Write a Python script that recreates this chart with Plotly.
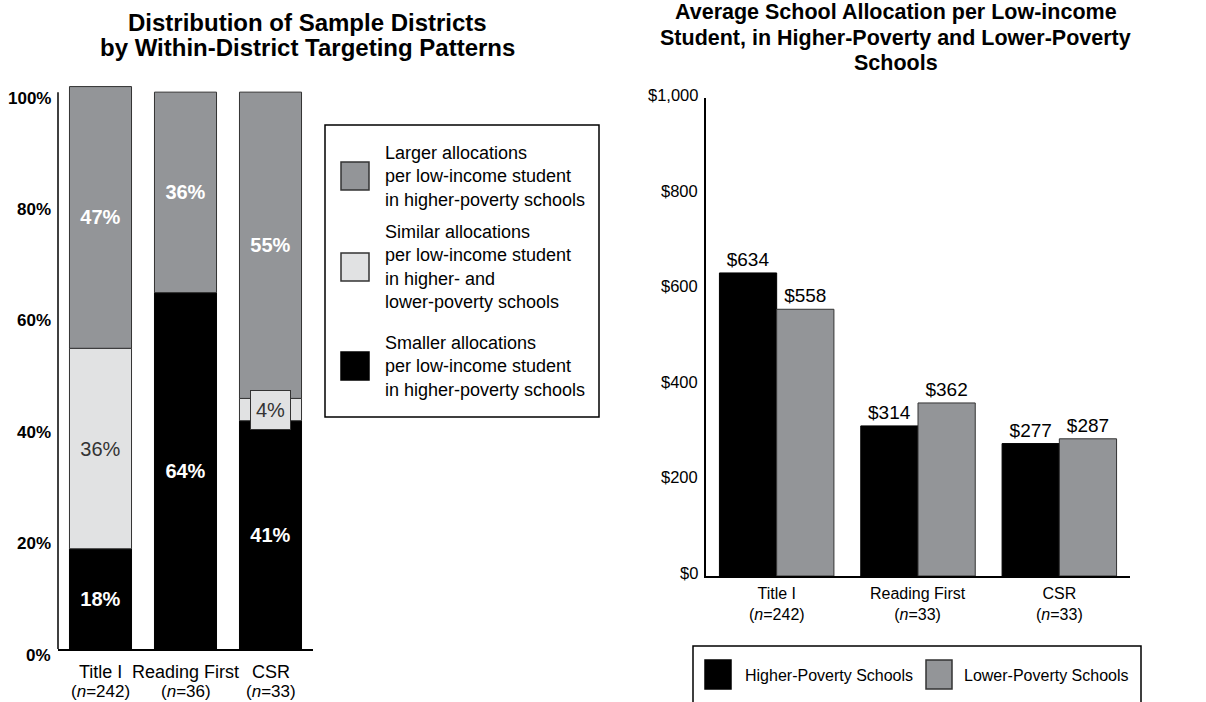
import plotly.graph_objects as go

W, H = 1206, 702
FONT = "Liberation Sans, Arial, sans-serif"

# ---------------- data ----------------
left_categories = ["Title I", "Reading First", "CSR"]
left_n = [242, 36, 33]
smaller_pct = [18, 64, 41]   # black
similar_pct = [36, 0, 4]     # light gray
larger_pct = [47, 36, 55]    # gray
left_ticks = [0, 20, 40, 60, 80, 100]
left_title_lines = ["Distribution of Sample Districts", "by Within-District Targeting Patterns"]
left_legend_labels = [
    "Larger allocations<br>per low-income student<br>in higher-poverty schools",
    "Similar allocations<br>per low-income student<br>in higher- and<br>lower-poverty schools",
    "Smaller allocations<br>per low-income student<br>in higher-poverty schools",
]

right_categories = ["Title I", "Reading First", "CSR"]
right_n = [242, 33, 33]
higher_pov = [634, 314, 277]
lower_pov = [558, 362, 287]
right_ticks = [0, 200, 400, 600, 800, 1000]
right_title_lines = ["Average School Allocation per Low-income",
                     "Student, in Higher-Poverty and Lower-Poverty",
                     "Schools"]
right_legend_labels = ["Higher-Poverty Schools", "Lower-Poverty Schools"]

# ---------------- styles ----------------
BLACK = "#000000"
GRAY = "#939598"
LIGHT = "#e1e2e3"
EDGE = "#333333"


def px(x):
    return x / W


def py(y):
    return 1 - y / H


fig = go.Figure()

# ---------- left stacked bars ----------
base_sim = smaller_pct
base_lar = [a + b for a, b in zip(smaller_pct, similar_pct)]
segs = [
    (smaller_pct, [0, 0, 0], BLACK, BLACK, "white", "bold"),
    (similar_pct, base_sim, LIGHT, EDGE, "#333333", "normal"),
    (larger_pct, base_lar, GRAY, EDGE, "white", "bold"),
]
for vals, base, col, edge, tcol, weight in segs:
    yv = [v if v > 0 else None for v in vals]
    txt = [f"{v}%" if v >= 10 else "" for v in vals]
    fig.add_trace(go.Bar(
        x=left_categories, y=yv, base=base, width=0.73,
        marker=dict(color=col, line=dict(color=edge, width=1)),
        text=txt, textposition="inside", insidetextanchor="middle", textangle=0,
        insidetextfont=dict(family=FONT, size=20, color=tcol, weight=weight),
        xaxis="x", yaxis="y", showlegend=False, hoverinfo="skip",
    ))

# small segment labels in boxes
annotations = []
for cat, v, b in zip(left_categories, similar_pct, base_sim):
    if 0 < v < 10:
        annotations.append(dict(
            x=cat, y=b + v / 2, xref="x", yref="y", xanchor="center", yanchor="middle",
            text=f"{v}%", showarrow=False,
            font=dict(family=FONT, size=20, color="#333333"),
            bgcolor=LIGHT, bordercolor=EDGE, borderwidth=1, borderpad=3,
            width=33, height=32,
        ))

# ---------- right grouped bars ----------
fig.add_trace(go.Bar(
    x=right_categories, y=higher_pov, width=0.405, offset=-0.405,
    marker=dict(color=BLACK, line=dict(color=BLACK, width=1)),
    texttemplate="$%{y}", textposition="outside", cliponaxis=False,
    outsidetextfont=dict(family=FONT, size=19, color="black"),
    xaxis="x2", yaxis="y2", showlegend=False, hoverinfo="skip",
))
fig.add_trace(go.Bar(
    x=right_categories, y=lower_pov, width=0.405, offset=0,
    marker=dict(color=GRAY, line=dict(color=EDGE, width=1)),
    texttemplate="$%{y}", textposition="outside", cliponaxis=False,
    outsidetextfont=dict(family=FONT, size=19, color="black"),
    xaxis="x2", yaxis="y2", showlegend=False, hoverinfo="skip",
))

# ---------- axes ----------
fig.update_layout(
    xaxis=dict(domain=[px(58), px(313)], range=[-0.5, 2.5], type="category",
               showticklabels=False, showline=True, linecolor="black", linewidth=1.5,
               ticks="", showgrid=False, zeroline=False, anchor="y"),
    yaxis=dict(domain=[py(649), py(81)], range=[0, 102], showticklabels=False,
               showline=False, showgrid=False, zeroline=False, anchor="x", ticks=""),
    xaxis2=dict(domain=[px(706), px(1130)], range=[-0.5, 2.5], type="category",
                showticklabels=False, showline=True, linecolor="black", linewidth=1.5,
                ticks="", showgrid=False, zeroline=False, anchor="y2"),
    yaxis2=dict(domain=[py(576), py(98)], range=[0, 1000], showticklabels=False,
                showline=True, linecolor="black", linewidth=1.5,
                showgrid=False, zeroline=False, anchor="x2", ticks=""),
)

shapes = []
# left y axis line (0-100%)
shapes.append(dict(type="line", xref="x domain", yref="y", x0=0, x1=0, y0=0, y1=100,
                   line=dict(color="black", width=1.5)))

# left tick labels
for t in left_ticks:
    annotations.append(dict(x=px(53), xref="paper", xanchor="right", y=t, yref="y",
                            yanchor="middle", yshift=-6, text=f"{t}%", showarrow=False,
                            font=dict(family=FONT, size=17, color="black", weight="bold")))
# right tick labels
for t in right_ticks:
    annotations.append(dict(x=px(700), xref="paper", xanchor="right", y=t, yref="y2",
                            yanchor="middle", yshift=3, text=f"${t:,}", showarrow=False,
                            font=dict(family=FONT, size=16.5, color="black")))

# category labels (left: two separate rows to keep them inside the page)
for c, n in zip(left_categories, left_n):
    annotations.append(dict(x=c, xref="x", y=py(672), yref="paper",
                            xanchor="center", yanchor="middle",
                            text=c, showarrow=False,
                            font=dict(family=FONT, size=18, color="black")))
    annotations.append(dict(x=c, xref="x", y=py(691), yref="paper",
                            xanchor="center", yanchor="middle",
                            text=f"(<i>n</i>={n})", showarrow=False,
                            font=dict(family=FONT, size=17, color="black")))
for c, n in zip(right_categories, right_n):
    annotations.append(dict(x=c, xref="x2", y=py(583), yref="paper",
                            xanchor="center", yanchor="top",
                            text=f"{c}<br>(<i>n</i>={n})", showarrow=False,
                            font=dict(family=FONT, size=16, color="black")))

# titles
for i, line in enumerate(left_title_lines):
    annotations.append(dict(x=px(307), y=py(22 + 25 * i), xref="paper", yref="paper",
                            xanchor="center", yanchor="middle",
                            text=f"<b>{line}</b>", showarrow=False,
                            font=dict(family=FONT, size=24, color="black")))
for i, line in enumerate(right_title_lines):
    annotations.append(dict(x=px(896), y=py(12 + 25.5 * i), xref="paper", yref="paper",
                            xanchor="center", yanchor="middle",
                            text=f"<b>{line}</b>", showarrow=False,
                            font=dict(family=FONT, size=21.5, color="black")))

# left legend
shapes.append(dict(type="rect", xref="paper", yref="paper", x0=px(325), x1=px(599),
                   y0=py(417), y1=py(125), line=dict(color="black", width=1.5)))
leg_cols = [GRAY, LIGHT, BLACK]
leg_edges = [EDGE, EDGE, BLACK]
leg_centers = [176, 267, 366]
for lab, col, ed, cy in zip(left_legend_labels, leg_cols, leg_edges, leg_centers):
    shapes.append(dict(type="rect", xref="paper", yref="paper", x0=px(341), x1=px(369),
                       y0=py(cy + 14), y1=py(cy - 14), fillcolor=col,
                       line=dict(color=ed, width=1.5)))
    annotations.append(dict(x=px(383), y=py(cy), xref="paper", yref="paper",
                            xanchor="left", yanchor="middle", align="left",
                            text=lab, showarrow=False,
                            font=dict(family=FONT, size=18, color="black")))

# right legend
shapes.append(dict(type="rect", xref="paper", yref="paper", x0=px(693), x1=px(1141),
                   y0=py(705), y1=py(646), line=dict(color="black", width=1.5)))
for lab, col, ed, x0, tx in zip(right_legend_labels, [BLACK, GRAY], [BLACK, EDGE],
                                [705, 926], [743, 962]):
    shapes.append(dict(type="rect", xref="paper", yref="paper", x0=px(x0), x1=px(x0 + 26),
                       y0=py(689), y1=py(660), fillcolor=col, line=dict(color=ed, width=1.5)))
    annotations.append(dict(x=px(tx), y=py(675), xref="paper", yref="paper",
                            xanchor="left", yanchor="middle", text=lab, showarrow=False,
                            font=dict(family=FONT, size=16, color="black")))

fig.update_layout(
    width=W, height=H, barmode="overlay",
    margin=dict(l=0, r=0, t=0, b=0),
    paper_bgcolor="white", plot_bgcolor="white",
    shapes=shapes, annotations=annotations, showlegend=False,
    font=dict(family=FONT),
)

fig.write_html("out.html",
               config={"displayModeBar": False},
               post_script="document.body.style.margin='0px';"
                           "document.body.style.overflow='hidden';")
